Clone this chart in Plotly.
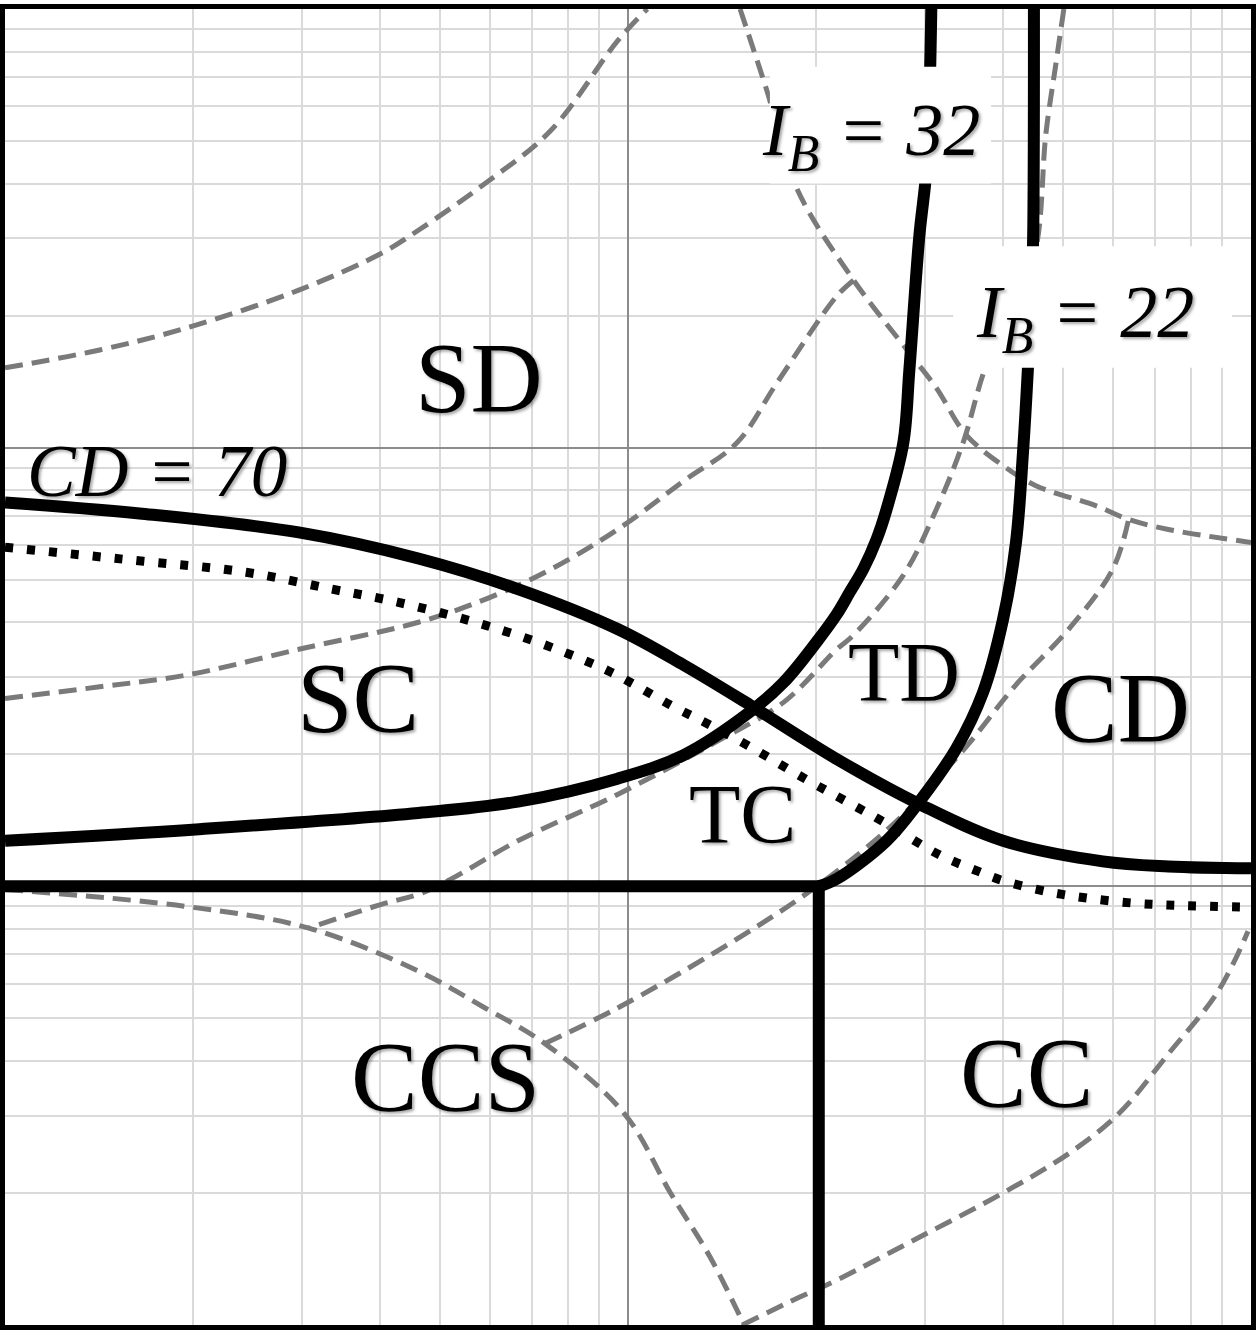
import plotly.graph_objects as go

# ---------------- axes (log-log, no tick labels) ----------------
MINOR_X = [2, 3, 4, 5, 6, 7, 8, 9, 20, 30, 40, 50, 60, 70, 80, 90]
MINOR_Y = [2, 3, 4, 5, 6, 7, 8, 9, 20, 30, 40, 50, 60, 70, 80, 90,
           200, 300, 400, 500, 600, 700, 800, 900]

# ---------------- solid boundaries ----------------
cd70_x = [1.0, 1.644, 2.962, 4.608, 6.658, 9.621, 12.31, 15.70, 21.63, 29.35, 39.99, 57.80, 73.68, 100.0]
cd70_y = [75.0, 70.8, 64.1, 55.9, 47.6, 38.6, 31.9, 25.9, 19.5, 15.4, 12.7, 11.4, 11.1, 10.99]

ib32_x = [1.0, 2.050, 4.608, 6.658, 9.621, 12.31, 15.70, 17.79, 20.09, 21.63, 22.69, 23.88, 25.06, 26.00, 27.67, 28.29, 29.35, 30.12, 30.45, 30.68]
ib32_y = [12.7, 13.5, 14.7, 15.6, 17.6, 19.95, 25.0, 29.2, 36.1, 41.7, 46.8, 53.0, 61.8, 72.3, 102.7, 150.4, 303.3, 426.1, 608.3, 1000]

ib22_x = [20.24, 21.63, 26.00, 29.35, 33.63, 37.15, 39.99, 41.95, 43.05, 43.85, 44.34, 44.67, 44.83]
ib22_y = [10.0, 10.4, 12.7, 15.6, 20.6, 27.7, 40.6, 60.8, 97.4, 152.0, 213.6, 284.8, 1000]

ccs_x = [1.0, 20.24, 20.24]
ccs_y = [10.0, 10.0, 1.0]

# ---------------- dotted boundary ----------------
dot_x = [1.0, 1.602, 2.437, 3.345, 4.280, 5.896, 7.517, 9.376, 11.70, 13.55, 15.70, 19.36, 22.44, 26.00, 31.60, 36.60, 39.99, 46.86, 54.88, 65.27, 76.44, 100.0]
dot_y = [59.3, 55.4, 52.0, 47.6, 44.4, 39.4, 35.1, 30.8, 25.9, 23.3, 20.8, 17.5, 15.6, 13.9, 11.8, 10.8, 10.3, 9.74, 9.39, 9.15, 9.05, 8.96]

# ---------------- dashed grey curves ----------------
d1_x = [1.0, 1.419, 1.954, 2.962, 4.021, 4.608, 5.896, 7.517, 9.621, 10.74]
d1_y = [152.0, 167.0, 187.4, 228.6, 277.5, 313.0, 400.2, 528.2, 845.9, 1000]

d2_x = [15.13, 16.71, 18.66, 23.02, 28.29, 31.25, 34.89, 39.99, 45.16, 56.31, 63.61, 73.68, 100.0]
d2_y = [1000, 651, 389.9, 240.9, 164.4, 136.9, 107.0, 91.0, 81.9, 73.8, 68.6, 65.1, 60.8]

d3_x = [1.0, 1.419, 1.954, 2.962, 4.608, 5.896, 7.517, 9.621, 12.31, 14.97, 17.34, 21.63, 23.02]
d3_y = [26.8, 28.5, 30.3, 34.7, 40.0, 45.1, 52.8, 65.1, 84.1, 102.7, 140.5, 221.6, 240.9]

d4_x = [50.07, 48.62, 46.86, 45.16, 41.95, 37.56, 34.51, 31.25, 27.67, 23.02, 21.63, 17.79, 13.90, 9.621, 6.658, 5.203, 4.608, 4.021, 3.073]
d4_y = [1000, 749.9, 519.9, 284.8, 213.6, 153.6, 102.7, 72.3, 51.2, 37.4, 34.7, 26.3, 21.4, 16.2, 12.7, 10.4, 9.59, 9.10, 8.03]

d5_x = [1.0, 1.954, 3.073, 4.608, 5.896, 7.356, 9.872, 11.70, 13.55, 15.36]
d5_y = [9.84, 9.00, 8.03, 6.41, 5.28, 4.38, 3.03, 2.00, 1.427, 1.0]

d6_x = [7.356, 9.621, 13.90, 18.87, 23.71, 27.98, 34.89, 41.95, 50.99, 59.97, 63.61]
d6_y = [4.38, 5.28, 7.12, 9.39, 12.0, 14.8, 20.8, 28.8, 38.6, 52.8, 68.6]

d7_x = [15.25, 18.87, 21.63, 29.35, 39.99, 50.99, 61.31, 73.68, 88.59, 98.9]
d7_y = [1.0, 1.158, 1.266, 1.585, 2.00, 2.46, 3.03, 4.15, 5.77, 7.90]

dashed = [(d1_x, d1_y), (d2_x, d2_y), (d3_x, d3_y), (d4_x, d4_y),
          (d5_x, d5_y), (d6_x, d6_y), (d7_x, d7_y)]

# ---------------- labels ----------------
region_labels = ["SD", "SC", "CD", "TD", "TC", "CCS", "CC"]
region_pos = [(0.3805, 0.7197), (0.2830, 0.4765), (0.8953, 0.4689), (0.7218, 0.4962),
              (0.5915, 0.3879), (0.3533, 0.1886), (0.8201, 0.1917)]
region_size = [100, 100, 100, 84, 84, 100, 100]

SHADOW = "2px 2px 3px rgba(0,0,0,0.35)"

fig = go.Figure()

for xs, ys in dashed:
    fig.add_trace(go.Scatter(x=xs, y=ys, mode="lines",
                             line=dict(color="#7a7a7a", width=5, dash="18px,9px",
                                       shape="spline", smoothing=1.0),
                             hoverinfo="skip", showlegend=False))

fig.add_trace(go.Scatter(x=dot_x, y=dot_y, mode="lines",
                         line=dict(color="black", width=9, dash="8px,14px",
                                   shape="spline", smoothing=1.0),
                         hoverinfo="skip", showlegend=False))

for xs, ys in [(cd70_x, cd70_y), (ib32_x, ib32_y), (ib22_x, ib22_y)]:
    fig.add_trace(go.Scatter(x=xs, y=ys, mode="lines",
                             line=dict(color="black", width=12, shape="spline", smoothing=1.0),
                             hoverinfo="skip", showlegend=False))

fig.add_trace(go.Scatter(x=ccs_x, y=ccs_y, mode="lines",
                         line=dict(color="black", width=12),
                         hoverinfo="skip", showlegend=False))

# white boxes behind I_B labels
for x0, x1, y0, y1 in [(0.6139, 0.7914, 0.8674, 0.9561), (0.7610, 0.9848, 0.7273, 0.8197)]:
    fig.add_shape(type="rect", xref="paper", yref="paper", x0=x0, x1=x1, y0=y0, y1=y1,
                  fillcolor="white", line=dict(width=0), layer="above")

serif = "Liberation Serif"
for txt, (px, py), sz in zip(region_labels, region_pos, region_size):
    fig.add_annotation(text=txt, x=px, y=py, xref="paper", yref="paper",
                       showarrow=False, xanchor="center", yanchor="middle",
                       font=dict(family=serif, size=sz, color="black", shadow=SHADOW))

fig.add_annotation(text="<i>CD = 70</i>", x=0.016, y=0.6485, xref="paper", yref="paper",
                   showarrow=False, xanchor="left", yanchor="middle",
                   font=dict(family=serif, size=73, color="black", shadow=SHADOW))
fig.add_annotation(text="<i>I</i><sub><i>B</i></sub><i> = 32</i>", x=0.6947, y=0.9038,
                   xref="paper", yref="paper", showarrow=False, xanchor="center", yanchor="middle",
                   font=dict(family=serif, size=74, color="black", shadow=SHADOW))
fig.add_annotation(text="<i>I</i><sub><i>B</i></sub><i> = 22</i>", x=0.8665, y=0.7652,
                   xref="paper", yref="paper", showarrow=False, xanchor="center", yanchor="middle",
                   font=dict(family=serif, size=74, color="black", shadow=SHADOW))

axis_common = dict(type="log", dtick=1, showgrid=True, gridcolor="#8c8c8c", gridwidth=2,
                   showticklabels=False, ticks="", showline=True, mirror=True,
                   linecolor="black", linewidth=5, zeroline=False, fixedrange=True)

fig.update_layout(
    width=1260, height=1330,
    margin=dict(l=5, r=4, t=5, b=5),
    paper_bgcolor="white", plot_bgcolor="white",
    xaxis=dict(range=[0, 2],
               minor=dict(tickmode="array", tickvals=MINOR_X, showgrid=True,
                          gridcolor="#dadada", gridwidth=2, ticks=""),
               **axis_common),
    yaxis=dict(range=[0, 3],
               minor=dict(tickmode="array", tickvals=MINOR_Y, showgrid=True,
                          gridcolor="#dadada", gridwidth=2, ticks=""),
               **axis_common),
    showlegend=False,
)

fig.write_html("out.html", config={"displayModeBar": False},
               post_script="document.body.style.margin='0';")
